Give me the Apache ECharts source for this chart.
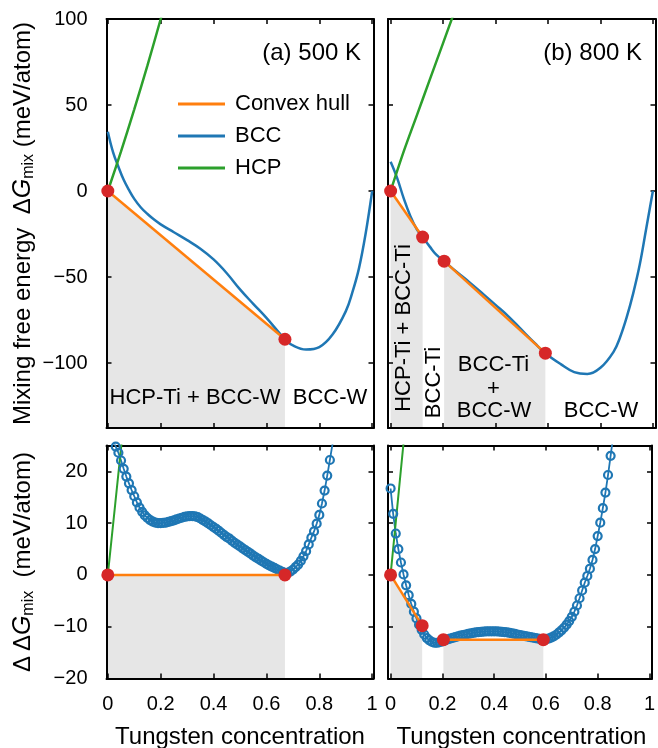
<!DOCTYPE html>
<html><head><meta charset="utf-8">
<script src="https://cdn.jsdelivr.net/npm/echarts@6/dist/echarts.min.js"></script>
<style>html,body{margin:0;padding:0;background:#fff}#c{width:658px;height:748px}</style>
</head><body><div id="c"></div>
<script>
const FONT = '"Liberation Sans", Arial, Helvetica, sans-serif';

// ---- tick labels ----
const xTicks = [0, 0.2, 0.4, 0.6, 0.8, 1];
const yTicksTop = [-100, -50, 0, 50, 100];
const yTicksBottom = [-20, -10, 0, 10, 20];

// ---- (a) 500 K : mixing free energy (meV/atom) vs W concentration ----
const bcc500 = [[0,34.5],[0.02,22.5],[0.04,14.1],[0.06,6.5],[0.08,0.6],[0.1,-4.6],[0.125,-9.6],[0.15,-13.4],[0.175,-16.6],[0.2,-19.4],[0.25,-24.0],[0.3,-28.6],[0.35,-33.6],[0.4,-39.8],[0.45,-47.8],[0.5,-57.2],[0.55,-65.6],[0.6,-73.8],[0.65,-82.8],[0.67,-86.2],[0.7,-89.8],[0.75,-92.2],[0.8,-90.8],[0.85,-83.5],[0.9,-70],[0.925,-59],[0.95,-45],[0.975,-25],[1,0]];
const hcp500 = [[0,0],[0.05,23],[0.1,47.5],[0.15,73],[0.2,100],[0.22,111]];
const hull500 = [[0,0],[0.67,-86.2]];
// ΔΔG (500 K)
const dbcc500 = [[0.02,26.0],[0.03,24.8],[0.04,23.6],[0.05,22.1],[0.06,20.5],[0.07,19.0],[0.08,17.7],[0.09,16.4],[0.10,15.2],[0.11,14.0],[0.12,13.0],[0.13,12.2],[0.14,11.5],[0.15,11.0],[0.16,10.6],[0.17,10.3],[0.18,10.1],[0.19,10.0],[0.20,10.0],[0.21,10.05],[0.22,10.1],[0.23,10.25],[0.24,10.4],[0.25,10.55],[0.26,10.75],[0.27,10.9],[0.28,11.05],[0.29,11.2],[0.30,11.3],[0.31,11.35],[0.32,11.35],[0.33,11.3],[0.34,11.15],[0.35,10.9],[0.36,10.6],[0.37,10.3],[0.38,9.95],[0.39,9.6],[0.40,9.25],[0.41,8.9],[0.42,8.5],[0.43,8.1],[0.44,7.7],[0.45,7.3],[0.46,7.0],[0.47,6.6],[0.48,6.2],[0.49,5.85],[0.50,5.5],[0.51,5.15],[0.52,4.8],[0.53,4.45],[0.54,4.1],[0.55,3.75],[0.56,3.4],[0.57,3.1],[0.58,2.75],[0.59,2.45],[0.60,2.15],[0.61,1.85],[0.62,1.6],[0.63,1.35],[0.64,1.1],[0.65,0.85],[0.66,0.6],[0.67,0.4],[0.68,0.4],[0.69,0.65],[0.70,1.0],[0.71,1.5],[0.72,2.0],[0.73,2.7],[0.74,3.6],[0.75,4.6],[0.76,5.9],[0.77,7.2],[0.78,8.4],[0.79,9.9],[0.80,11.6],[0.81,13.8],[0.82,16.3],[0.83,19.2],[0.84,22.2],[0.85,25.3]];
const dhcp500 = [[0,0],[0.05,24.5],[0.06,29.4]];
const dhull500 = [[0,0],[0.67,0]];
const twoPhase500 = [[0, 0.67]];

// ---- (b) 800 K ----
const bcc800 = [[0,17],[0.025,7.5],[0.05,-4.3],[0.075,-14.5],[0.1,-22.3],[0.122,-26.8],[0.15,-32.5],[0.175,-37.2],[0.204,-40.8],[0.25,-46.8],[0.3,-53],[0.35,-59.5],[0.4,-66.2],[0.45,-73],[0.5,-80.8],[0.55,-88.5],[0.59,-94.3],[0.65,-100.8],[0.7,-105.3],[0.75,-106.4],[0.8,-102.8],[0.85,-93.5],[0.875,-85],[0.9,-73.5],[0.925,-59.5],[0.95,-42.8],[0.975,-21.5],[1,0]];
const hcp800 = [[0,0],[0.05,23],[0.1,44],[0.15,65],[0.2,86],[0.25,107]];
const hull800 = [[0,0],[0.122,-26.8],[0.204,-40.8],[0.59,-94.3]];
// ΔΔG (800 K)
const dbcc800 = [[0.00,16.7],[0.01,11.8],[0.02,8.0],[0.03,5.0],[0.04,2.4],[0.05,0.1],[0.06,-2.0],[0.07,-3.9],[0.08,-5.6],[0.09,-7.1],[0.10,-8.4],[0.11,-9.6],[0.12,-10.6],[0.13,-11.5],[0.14,-12.2],[0.15,-12.65],[0.16,-12.95],[0.17,-13.1],[0.18,-13.1],[0.19,-13.0],[0.20,-12.85],[0.21,-12.65],[0.22,-12.45],[0.23,-12.3],[0.24,-12.15],[0.25,-12.0],[0.26,-11.85],[0.27,-11.7],[0.28,-11.6],[0.29,-11.5],[0.30,-11.4],[0.31,-11.3],[0.32,-11.2],[0.33,-11.1],[0.34,-11.05],[0.35,-11.0],[0.36,-10.95],[0.37,-10.9],[0.38,-10.9],[0.39,-10.9],[0.40,-10.9],[0.41,-10.9],[0.42,-10.95],[0.43,-11.0],[0.44,-11.05],[0.45,-11.1],[0.46,-11.2],[0.47,-11.3],[0.48,-11.4],[0.49,-11.5],[0.50,-11.6],[0.51,-11.7],[0.52,-11.8],[0.53,-11.9],[0.54,-12.0],[0.55,-12.1],[0.56,-12.2],[0.57,-12.3],[0.58,-12.4],[0.59,-12.45],[0.60,-12.4],[0.61,-12.3],[0.62,-12.1],[0.63,-11.85],[0.64,-11.55],[0.65,-11.15],[0.66,-10.7],[0.67,-10.2],[0.68,-9.6],[0.69,-8.9],[0.70,-8.1],[0.71,-7.1],[0.72,-5.9],[0.73,-4.5],[0.74,-3.0],[0.75,-1.5],[0.76,-0.2],[0.77,1.2],[0.78,2.9],[0.79,5.0],[0.80,7.5],[0.81,10.1],[0.82,12.9],[0.83,15.9],[0.84,19.3],[0.85,23.0],[0.86,26.8]];
const dhcp800 = [[0,0],[0.05,25.5],[0.06,30.6]];
const dhull800 = [[0,0],[0.122,-9.8],[0.204,-12.5],[0.59,-12.5]];
const twoPhase800 = [[0, 0.122], [0.204, 0.59]];

// ---- styling ----
const C_BCC = '#1f77b4', C_HCP = '#2ca02c', C_HULL = '#ff7f0e', C_DOT = '#d62728', C_GRAY = '#e6e6e6';

const grids = [
  {left: 106.5, top: 19, width: 267, height: 409},
  {left: 388, top: 19, width: 267.5, height: 409},
  {left: 106.5, top: 445.5, width: 267, height: 233},
  {left: 388, top: 445.5, width: 267.5, height: 233}
];
const xRange = [[-0.005, 1.005], [-0.01, 1.01], [-0.005, 1.005], [-0.01, 1.01]];
const yRange = [[-137.8, 100], [-137.8, 100], [-20, 25], [-20, 25]];
const yTickSets = [yTicksTop, yTicksTop, yTicksBottom, yTicksBottom];
const showXLab = [false, false, true, true];
const showYLab = [true, false, true, false];

const fmtX = v => (v === 0 ? '0' : v === 1 ? '1' : v.toFixed(1));
const fmtY = v => String(v).replace('-', '\u2212');

const xAxis = [], yAxis = [];
grids.forEach((g, i) => {
  ['bottom', 'top'].forEach((pos, k) => {
    xAxis.push({
      type: 'value', gridIndex: i, position: pos, min: xRange[i][0], max: xRange[i][1], z: 2,
      axisLine: {show: true, onZero: false, lineStyle: {color: '#000', width: 2}},
      axisTick: {show: true, inside: true, length: 5, customValues: xTicks, lineStyle: {color: '#000', width: 1.5}},
      axisLabel: {show: k === 0 && showXLab[i], customValues: xTicks, formatter: fmtX, margin: 16,
                  fontSize: 20, color: '#000', fontFamily: FONT},
      splitLine: {show: false}
    });
  });
  ['left', 'right'].forEach((pos, k) => {
    yAxis.push({
      type: 'value', gridIndex: i, position: pos, min: yRange[i][0], max: yRange[i][1], z: 2,
      axisLine: {show: true, onZero: false, lineStyle: {color: '#000', width: 2}},
      axisTick: {show: true, inside: true, length: 5, customValues: yTickSets[i], lineStyle: {color: '#000', width: 1.5}},
      axisLabel: {show: k === 0 && showYLab[i], customValues: yTickSets[i], formatter: fmtY, margin: 19,
                  fontSize: 20, color: '#000', fontFamily: FONT},
      splitLine: {show: false}
    });
  });
});

const panels = [
  {bcc: bcc500, hcp: hcp500, hull: hull500, regions: twoPhase500, dense: false},
  {bcc: bcc800, hcp: hcp800, hull: hull800, regions: twoPhase800, dense: false},
  {bcc: dbcc500, hcp: dhcp500, hull: dhull500, regions: twoPhase500, dense: true},
  {bcc: dbcc800, hcp: dhcp800, hull: dhull800, regions: twoPhase800, dense: true}
];

const series = [];
panels.forEach((p, i) => {
  const ax = {xAxisIndex: 2 * i, yAxisIndex: 2 * i};
  const inRegion = (r) => p.hull.filter(pt => pt[0] >= r[0] - 1e-9 && pt[0] <= r[1] + 1e-9);
  p.regions.forEach(r => {
    series.push(Object.assign({type: 'line', data: inRegion(r), symbol: 'none', silent: true, z: 1,
      lineStyle: {width: 0}, areaStyle: {color: C_GRAY, opacity: 1, origin: 'start'}}, ax));
  });
  series.push(Object.assign({
    type: 'line', name: 'BCC', data: p.bcc, z: 3,
    smooth: p.dense ? false : 0.4,
    symbol: p.dense ? 'circle' : 'none', symbolSize: 8, showAllSymbol: true,
    itemStyle: p.dense ? {color: 'rgba(0,0,0,0)', borderColor: C_BCC, borderWidth: 2.2} : {color: C_BCC},
    lineStyle: {color: C_BCC, width: p.dense ? 1.8 : 2.5}
  }, ax));
  series.push(Object.assign({
    type: 'line', name: 'HCP', data: p.hcp, z: 3, smooth: 0.3, symbol: 'none',
    itemStyle: {color: C_HCP}, lineStyle: {color: C_HCP, width: p.dense ? 2 : 2.5}
  }, ax));
  p.regions.forEach(r => {
    series.push(Object.assign({
      type: 'line', name: 'Convex hull', data: inRegion(r), z: 4, symbol: 'none',
      itemStyle: {color: C_HULL}, lineStyle: {color: C_HULL, width: 2.5}
    }, ax));
  });
  series.push(Object.assign({
    type: 'scatter', data: p.hull, z: 5, symbolSize: 13, itemStyle: {color: C_DOT, opacity: 1}
  }, ax));
});

const txt = (text, x, y, opts) => Object.assign({
  type: 'text', x: x, y: y, silent: true, z: 100,
  style: Object.assign({text: text, fill: '#000', fontSize: 22, fontFamily: FONT,
    align: 'center', textAlign: 'center', verticalAlign: 'middle', textVerticalAlign: 'middle'}, opts && opts.style)
}, opts && opts.el);

const richY = {
  t: {fontSize: 24, fontFamily: FONT, fill: '#000', lineHeight: 28},
  g: {fontSize: 25, fontFamily: FONT, fontStyle: 'italic', fill: '#000', lineHeight: 28},
  s: {fontSize: 16, fontFamily: FONT, fill: '#000', lineHeight: 14, verticalAlign: 'bottom'}
};

const graphic = [
  txt('(a) 500 K', 361, 53, {style: {fontSize: 24, align: 'right', textAlign: 'right'}}),
  txt('(b) 800 K', 642, 53, {style: {fontSize: 24, align: 'right', textAlign: 'right'}}),
  txt('HCP-Ti + BCC-W', 195, 398),
  txt('BCC-W', 330, 398),
  txt('HCP-Ti + BCC-Ti', 403.5, 328, {el: {rotation: Math.PI / 2}}),
  txt('BCC-Ti', 433.5, 382.5, {el: {rotation: Math.PI / 2}}),
  txt('BCC-Ti', 493.5, 365),
  txt('+', 493.5, 389),
  txt('BCC-W', 494, 411),
  txt('BCC-W', 601, 411),
  txt('Tungsten concentration', 240, 737, {style: {fontSize: 24}}),
  txt('Tungsten concentration', 521.5, 737, {style: {fontSize: 24}}),
  txt('{t|Mixing free energy  \u0394}{g|G}{s|mix}{t| (meV/atom)}', 23, 223.5,
      {el: {rotation: Math.PI / 2}, style: {rich: richY}}),
  txt('{t|\u0394\u2009\u0394}{g|G}{s|mix}{t|  (meV/atom)}', 23, 562,
      {el: {rotation: Math.PI / 2}, style: {rich: richY}})
];

const chart = echarts.init(document.getElementById('c'), null, {renderer: 'canvas'});
chart.setOption({
  animation: false,
  backgroundColor: '#fff',
  grid: grids,
  xAxis: xAxis,
  yAxis: yAxis,
  legend: {
    data: [{name: 'Convex hull', icon: 'rect'}, {name: 'BCC', icon: 'rect'}, {name: 'HCP', icon: 'rect'}],
    orient: 'vertical', left: 178, top: 93, padding: 0, itemGap: 10,
    itemWidth: 47, itemHeight: 3, selectedMode: false,
    textStyle: {fontSize: 22, fontFamily: FONT, color: '#000', lineHeight: 22, padding: [0, 0, 0, 5]}
  },
  series: series,
  graphic: graphic
});
</script>
</body></html>
